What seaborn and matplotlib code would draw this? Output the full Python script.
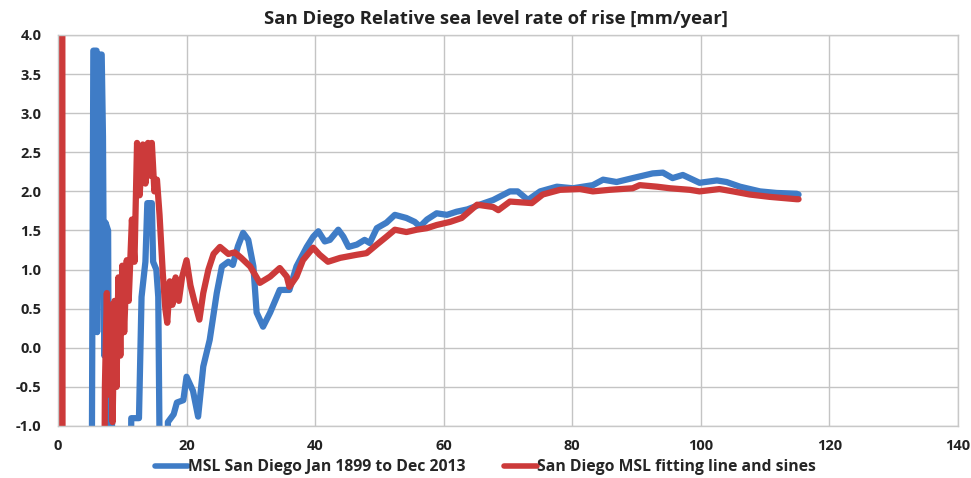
import matplotlib
matplotlib.use("Agg")
import matplotlib.pyplot as plt
from matplotlib.lines import Line2D
import seaborn as sns
import pandas as pd

# ---- data ----
blue_label = "MSL San Diego Jan 1899 to Dec 2013"
red_label = "San Diego MSL fitting line and sines"

blue_x = [5.2, 5.5, 6.0, 6.1, 6.4, 6.8, 7.0, 7.2, 7.4, 7.8, 8.0, 8.4, 8.6, 11.2, 11.4, 12.6,
          13.0, 13.6, 13.9, 14.6, 14.8, 15.3, 15.6, 16.0, 17.0, 17.1, 18.0, 18.5, 19.5, 20.0,
          21.0, 21.8, 22.6, 23.6, 24.7, 25.5, 26.5, 27.2, 28.0, 28.8, 29.6, 30.4, 30.9, 31.9,
          33.0, 34.5, 36.0, 37.1, 38.7, 39.7, 40.5, 41.5, 42.3, 43.6, 44.4, 45.2, 46.5, 47.7,
          48.5, 49.6, 51.1, 52.4, 54.2, 55.5, 56.3, 57.4, 58.9, 60.5, 62.0, 63.7, 65.6, 67.7,
          70.3, 71.5, 73.1, 75.0, 77.6, 80.1, 83.2, 84.8, 86.9, 89.4, 92.5, 94.1, 95.6, 97.2,
          99.8, 102.5, 104.0, 106.1, 109.2, 111.8, 114.9, 115.2]
blue_y = [-3.0, 3.8, 3.8, 0.2, 3.75, 3.75, 2.7, -0.1, 1.6, 1.5, -3.0, -0.9, -3.0, -3.0, -0.9, -0.9,
          0.65, 1.1, 1.85, 1.85, 1.1, 1.0, 0.65, -3.0, -3.0, -0.95, -0.85, -0.7, -0.67, -0.37,
          -0.55, -0.88, -0.24, 0.1, 0.7, 1.04, 1.1, 1.06, 1.3, 1.47, 1.38, 1.04, 0.45, 0.27,
          0.45, 0.74, 0.74, 1.04, 1.29, 1.42, 1.49, 1.36, 1.38, 1.51, 1.42, 1.29, 1.32, 1.38,
          1.34, 1.53, 1.60, 1.70, 1.66, 1.61, 1.55, 1.64, 1.72, 1.70, 1.74, 1.77, 1.83, 1.89,
          2.0, 2.0, 1.89, 2.0, 2.06, 2.04, 2.08, 2.15, 2.12, 2.17, 2.23, 2.24, 2.17, 2.21,
          2.11, 2.14, 2.12, 2.06, 2.0, 1.98, 1.97, 1.96]

red_x = [0.4, 0.6, 0.8, 7.0, 7.3, 7.6, 7.9, 8.2, 8.5, 8.8, 9.1, 9.4, 9.7, 10.0, 10.3, 10.7,
         11.0, 11.5, 11.9, 12.3, 12.7, 13.2, 13.6, 14.0, 14.4, 14.6, 15.0, 15.4, 15.8, 16.3,
         16.7, 17.0, 17.4, 17.8, 18.3, 18.8, 19.3, 20.0, 20.6, 21.2, 22.0, 22.6, 23.4, 24.2,
         25.2, 26.5, 27.5, 28.5, 29.9, 31.4, 33.0, 34.5, 35.6, 36.0, 37.1, 38.1, 39.7, 40.7,
         42.0, 43.9, 46.5, 48.0, 49.6, 51.1, 52.4, 54.2, 55.8, 57.4, 58.9, 61.0, 62.8, 65.2,
         67.7, 68.5, 70.3, 73.7, 75.4, 78.1, 81.2, 83.2, 85.8, 89.4, 90.5, 93.2, 95.2, 98.3,
         99.8, 102.9, 105.0, 107.6, 110.7, 114.9, 115.2]
red_y = [-20.0, 20.0, -20.0, -5.0, -0.5, 0.7, -0.6, 0.55, -0.95, 0.6, -0.5, 0.9, -0.1, 1.05, 0.2, 1.12,
         0.6, 1.64, 1.1, 2.62, 1.95, 2.6, 2.1, 2.62, 2.2, 2.62, 2.0, 2.15, 1.7, 0.96,
         0.5, 0.32, 0.85, 0.55, 0.9, 0.6, 0.9, 1.12, 0.8, 0.6, 0.36, 0.7, 1.0, 1.2,
         1.29, 1.2, 1.22, 1.15, 1.04, 0.83, 0.91, 1.02, 0.91, 0.78, 0.91, 1.12, 1.28, 1.19,
         1.10, 1.15, 1.19, 1.21, 1.32, 1.42, 1.51, 1.48, 1.51, 1.53, 1.57, 1.61, 1.66, 1.83,
         1.80, 1.76, 1.87, 1.85, 1.96, 2.02, 2.03, 2.0, 2.02, 2.04, 2.08, 2.06, 2.04, 2.02,
         2.0, 2.03, 2.0, 1.96, 1.93, 1.90, 1.90]

x_ticks = [0, 20, 40, 60, 80, 100, 120, 140]
y_ticks = [-1.0, -0.5, 0.0, 0.5, 1.0, 1.5, 2.0, 2.5, 3.0, 3.5, 4.0]
title = "San Diego Relative sea level rate of rise [mm/year]"

# ---- build table ----
df = pd.concat([
    pd.DataFrame({"x": blue_x, "y": blue_y, "series": blue_label}),
    pd.DataFrame({"x": red_x, "y": red_y, "series": red_label}),
], ignore_index=True)

sns.set_style("white")
plt.rcParams["font.family"] = ["Open Sans", "DejaVu Sans"]

fig = plt.figure(figsize=(9.71, 4.78), dpi=100)
ax = fig.add_axes([0.0597, 0.1088, 0.9269, 0.818])

palette = {blue_label: "#3f7cc6", red_label: "#cc3a3a"}
sns.lineplot(data=df, x="x", y="y", hue="series", palette=palette, sort=False,
             estimator=None, linewidth=4.5, ax=ax, legend=False)

ax.set_xlim(0, 140)
ax.set_ylim(-1.0, 4.0)
ax.set_xticks(x_ticks)
ax.set_yticks(y_ticks)
ax.set_xticklabels([str(t) for t in x_ticks], fontsize=10.5, fontweight="bold", color="#222222")
ax.set_yticklabels([f"{t:.1f}" for t in y_ticks], fontsize=10.5, fontweight="bold", color="#222222")
ax.tick_params(axis="x", length=0, pad=9.5)
ax.tick_params(axis="y", length=0, pad=12)
ax.set_xlabel("")
ax.set_ylabel("")
ax.grid(True, color="#c4c4c4", linewidth=1.0)
ax.set_axisbelow(True)
for s in ax.spines.values():
    s.set_color("#c8c8c8")
    s.set_linewidth(1.0)

ax.set_title(title, fontsize=13.3, fontweight="bold", color="#222222", pad=8, x=0.487)

handles = [Line2D([0], [0], color=palette[blue_label], lw=4.0),
           Line2D([0], [0], color=palette[red_label], lw=4.0)]
fig.legend(handles, [blue_label, red_label], loc="center", bbox_to_anchor=(0.5, 0.022),
           ncol=2, frameon=False, handlelength=2.1, handletextpad=0.05, columnspacing=2.4,
           prop={"size": 11.3, "weight": "bold"})

fig.savefig("out.png", dpi=100)
